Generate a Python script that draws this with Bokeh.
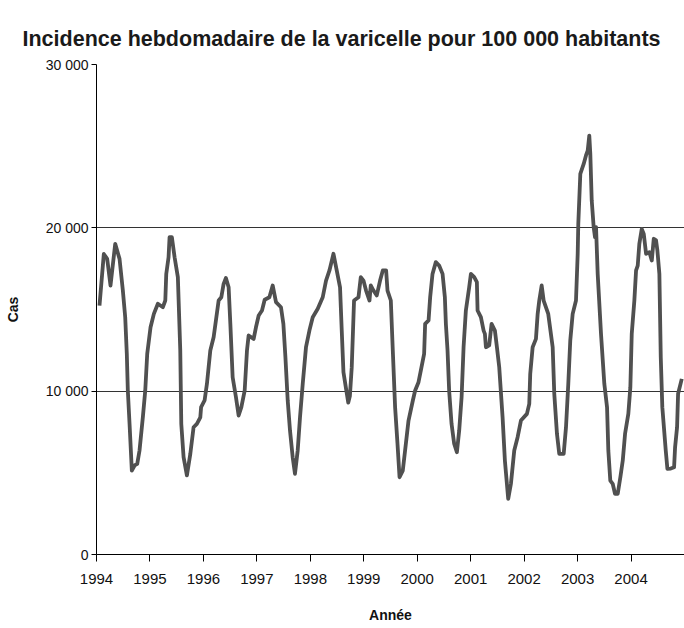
from bokeh.plotting import figure
from bokeh.models import Range1d, FixedTicker, Title
from bokeh.embed import file_html
from bokeh.resources import INLINE

# ---- data ----
annee = [
    1994.056, 1994.137, 1994.200, 1994.262, 1994.350, 1994.431, 1994.493, 1994.537, 1994.567, 1994.586,
    1994.618, 1994.661, 1994.712, 1994.762, 1994.805, 1994.867, 1994.912, 1994.949, 1995.011, 1995.073,
    1995.148, 1995.242, 1995.287, 1995.305, 1995.348, 1995.367, 1995.410, 1995.461, 1995.522, 1995.567,
    1995.586, 1995.629, 1995.691, 1995.755, 1995.816, 1995.878, 1995.942, 1995.957, 1996.022, 1996.066,
    1996.129, 1996.191, 1996.234, 1996.285, 1996.335, 1996.378, 1996.421, 1996.472, 1996.504, 1996.547,
    1996.609, 1996.659, 1996.710, 1996.772, 1996.815, 1996.846, 1996.940, 1996.983, 1997.034, 1997.096,
    1997.146, 1997.234, 1997.296, 1997.358, 1997.451, 1997.496, 1997.534, 1997.577, 1997.620, 1997.670,
    1997.713, 1997.764, 1997.807, 1997.858, 1997.919, 1997.983, 1998.045, 1998.139, 1998.232, 1998.294,
    1998.358, 1998.433, 1998.494, 1998.556, 1998.588, 1998.620, 1998.669, 1998.710, 1998.740, 1998.775,
    1998.818, 1998.901, 1998.944, 1998.994, 1999.043, 1999.107, 1999.131, 1999.182, 1999.243, 1999.305,
    1999.356, 1999.418, 1999.444, 1999.506, 1999.543, 1999.586, 1999.631, 1999.669, 1999.730, 1999.773,
    1999.837, 1999.918, 1999.961, 2000.024, 2000.067, 2000.129, 2000.148, 2000.212, 2000.242, 2000.286,
    2000.348, 2000.410, 2000.474, 2000.517, 2000.536, 2000.567, 2000.597, 2000.642, 2000.691, 2000.742,
    2000.785, 2000.830, 2000.867, 2000.910, 2000.972, 2001.004, 2001.066, 2001.116, 2001.129, 2001.191,
    2001.242, 2001.266, 2001.285, 2001.346, 2001.391, 2001.453, 2001.491, 2001.534, 2001.597, 2001.640,
    2001.702, 2001.753, 2001.815, 2001.878, 2001.940, 2002.052, 2002.096, 2002.114, 2002.159, 2002.221,
    2002.253, 2002.283, 2002.328, 2002.365, 2002.451, 2002.534, 2002.564, 2002.614, 2002.657, 2002.740,
    2002.783, 2002.826, 2002.863, 2002.908, 2002.970, 2003.002, 2003.013, 2003.051, 2003.114, 2003.157,
    2003.189, 2003.219, 2003.238, 2003.264, 2003.301, 2003.326, 2003.345, 2003.376, 2003.438, 2003.500,
    2003.551, 2003.575, 2003.612, 2003.657, 2003.700, 2003.751, 2003.800, 2003.845, 2003.888, 2003.949,
    2003.987, 2004.013, 2004.062, 2004.094, 2004.125, 2004.155, 2004.200, 2004.238, 2004.281, 2004.343,
    2004.388, 2004.425, 2004.468, 2004.493, 2004.530, 2004.556, 2004.585, 2004.649, 2004.680, 2004.743,
    2004.805, 2004.824, 2004.861, 2004.880, 2004.949,
]
cas = [
    15240, 18400, 18100, 16470, 19020, 18100, 16160, 14530, 12290, 10040,
    8020, 5140, 5450, 5550, 6370, 8400, 10040, 12290, 13910, 14730,
    15350, 15140, 15550, 17180, 18200, 19430, 19430, 18200, 16980, 12500,
    8000, 5960, 4840, 6160, 7790, 8000, 8400, 9020, 9430, 10450,
    12490, 13300, 14330, 15550, 15750, 16570, 16930, 16360, 14120, 10850,
    9630, 8510, 9020, 10040, 12490, 13410, 13200, 13910, 14630, 14940,
    15600, 15750, 16470, 15450, 15140, 14120, 12080, 9430, 7590, 5960,
    4940, 6370, 8400, 10450, 12690, 13710, 14530, 15040, 15750, 16770,
    17390, 18410, 17390, 16360, 13710, 11160, 10140, 9300, 9700, 11470,
    15550, 15750, 16980, 16770, 16160, 15550, 16470, 16160, 15860, 16770,
    17390, 17390, 16160, 15550, 12490, 9020, 6780, 4730, 5140, 6370,
    8200, 9430, 10040, 10550, 11260, 12290, 14120, 14330, 15750, 17180,
    17900, 17690, 17180, 15750, 14120, 12490, 10040, 8000, 6780, 6260,
    7590, 9630, 12690, 14940, 16360, 17180, 16980, 16670, 14940, 14530,
    13710, 13510, 12690, 12800, 14120, 13710, 12690, 11470, 8400, 5750,
    3410, 4330, 6370, 7180, 8200, 8610, 9220, 11060, 12690, 13200,
    14730, 15550, 16470, 15550, 14730, 12690, 9840, 7390, 6160, 6160,
    7790, 10450, 13100, 14730, 15550, 18410, 20240, 23300, 23910, 24430,
    24730, 25650, 24530, 21690, 20040, 19430, 20040, 17180, 13510, 10450,
    9020, 6370, 4530, 4330, 3720, 3720, 4730, 5750, 7390, 8610,
    10240, 13510, 15550, 17390, 17690, 19020, 19930, 19630, 18410, 18510,
    18000, 19330, 19230, 18610, 17180, 12080, 9020, 6370, 5240, 5260,
    5340, 6570, 7790, 9840, 10750,
]
x_ticks = [1994, 1995, 1996, 1997, 1998, 1999, 2000, 2001, 2002, 2003, 2004, 2005]
x_tick_labels = ["1994", "1995", "1996", "1997", "1998", "1999", "2000",
                 "2001", "2002", "2003", "2004", ""]
y_ticks = [0, 10000, 20000, 30000]
y_tick_labels = ["0", "10 000", "20 000", "30 000"]
titre = "Incidence hebdomadaire de la varicelle pour 100 000 habitants"

FONT = "Liberation Sans Narrow, Arial Narrow, Liberation Sans"

p = figure(width=684, height=628, output_backend="svg", toolbar_location=None,
           x_range=Range1d(1994, 2005), y_range=Range1d(0, 30000),
           min_border_left=96, min_border_right=0, min_border_top=64,
           min_border_bottom=74, title=None)
p.outline_line_color = None
p.background_fill_color = "white"

p.add_layout(Title(text=titre, text_font=FONT, text_font_size="21.5px",
                   text_font_style="bold", text_color="#1a1a1a",
                   align="left", vertical_align="top",
                   offset=-74, standoff=24), "above")

p.line(annee, cas, line_color="#505050", line_width=3.8, line_join="round")

# x axis
xa = p.xaxis[0]
xa.ticker = FixedTicker(ticks=x_ticks)
xa.major_label_overrides = {t: l for t, l in zip(x_ticks, x_tick_labels)}
xa.minor_tick_line_color = None
xa.major_tick_in = 0
xa.major_tick_out = 7
xa.major_label_standoff = 12
xa.axis_line_color = "black"
xa.major_tick_line_color = "black"
xa.major_label_text_font = FONT
xa.major_label_text_font_size = "15px"
xa.major_label_text_color = "#111111"
xa.axis_label = "Année"
xa.axis_label_text_font = FONT
xa.axis_label_text_font_size = "14px"
xa.axis_label_text_font_style = "bold"
xa.axis_label_text_color = "#111111"
xa.axis_label_standoff = 20

# y axis
ya = p.yaxis[0]
ya.ticker = FixedTicker(ticks=y_ticks)
ya.major_label_overrides = {t: l for t, l in zip(y_ticks, y_tick_labels)}
ya.minor_tick_line_color = None
ya.major_tick_in = 0
ya.major_tick_out = 5
ya.major_label_standoff = 3
ya.axis_line_color = "black"
ya.major_tick_line_color = "black"
ya.major_label_text_font = FONT
ya.major_label_text_font_size = "14px"
ya.major_label_text_color = "#111111"
ya.axis_label = "Cas"
ya.axis_label_text_font = FONT
ya.axis_label_text_font_size = "14px"
ya.axis_label_text_font_style = "bold"
ya.axis_label_text_color = "#111111"
ya.axis_label_standoff = 22

p.xgrid.grid_line_color = None
p.ygrid.ticker = FixedTicker(ticks=y_ticks)
p.ygrid.grid_line_color = "#333333"
p.ygrid.grid_line_width = 1

open("out.html", "w").write(file_html(p, INLINE))
